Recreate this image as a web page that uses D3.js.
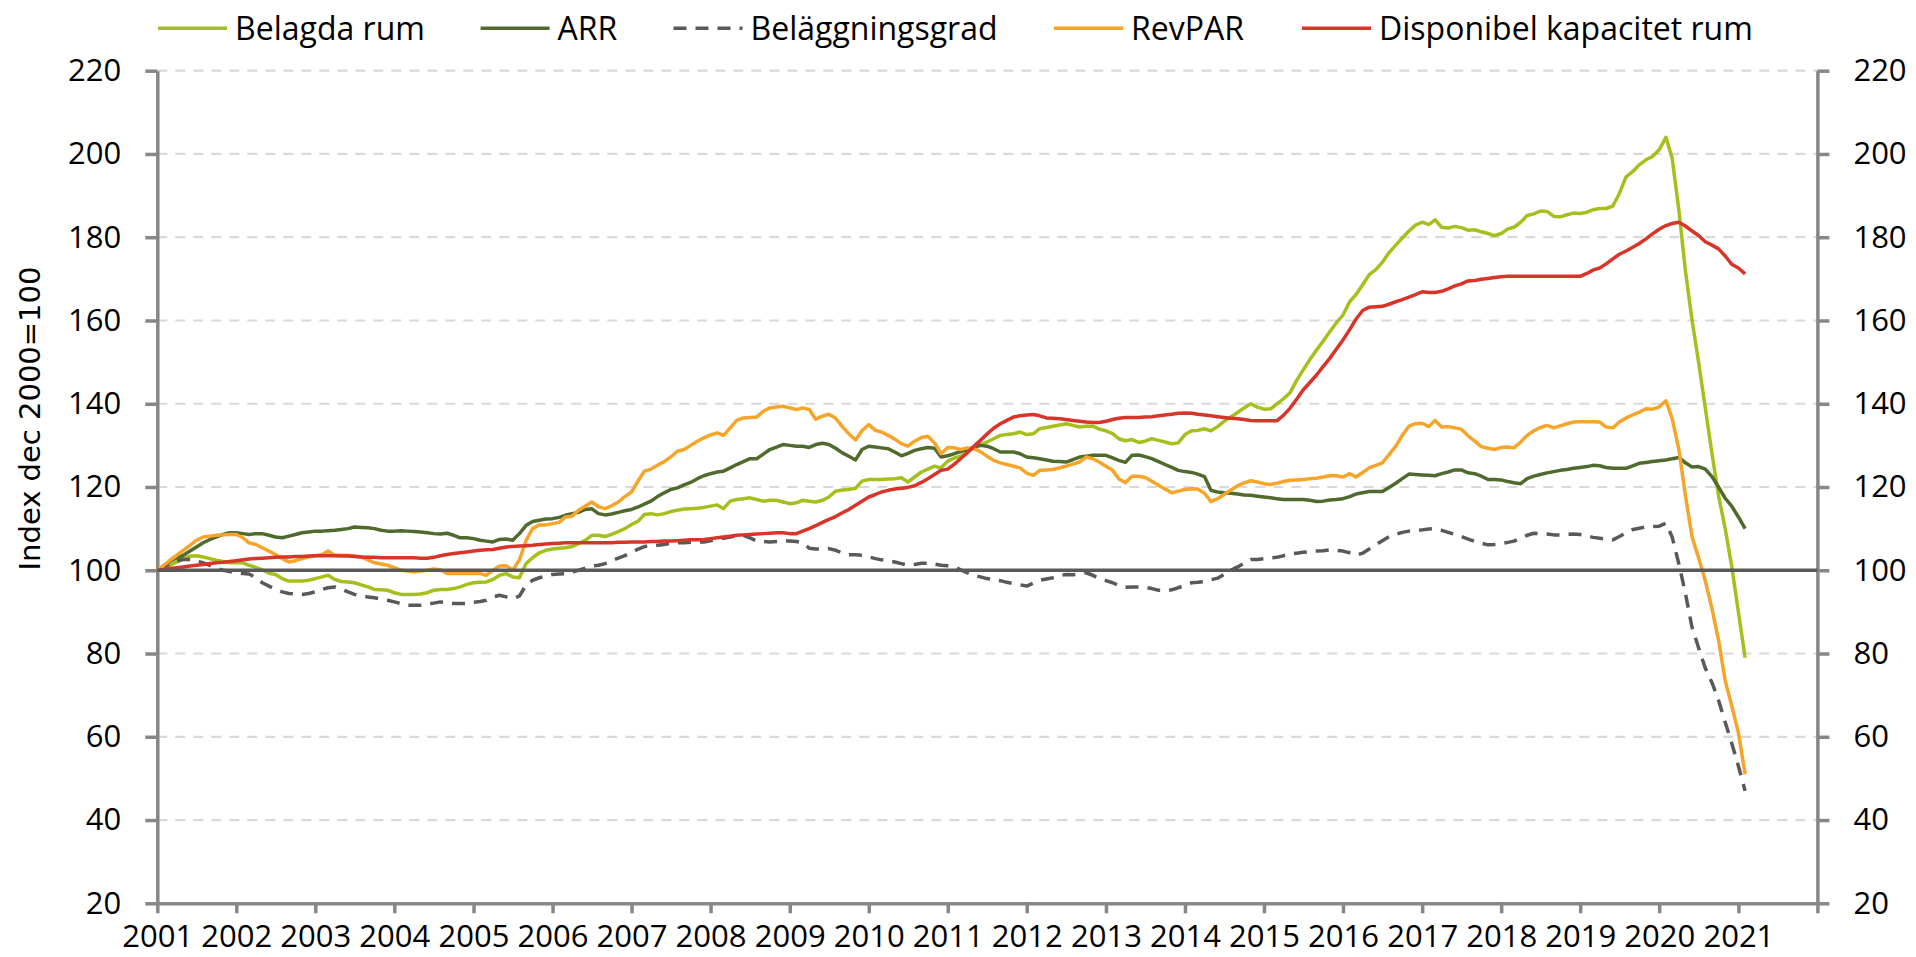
<!DOCTYPE html>
<html>
<head>
<meta charset="utf-8">
<script src="https://cdn.jsdelivr.net/npm/d3@7"></script>
<style>
  body { margin: 0; background: #fff; }
  svg text { font-family: "Open Sans", sans-serif; fill: #000; }
</style>
</head>
<body>
<script>
// monthly values, Jan 2001 .. Feb 2021 (one row per year)
const belagdaRum = [
  100, 100.6, 101.2, 102, 102.8, 103.4, 103.5, 103.2, 102.8, 102.4, 102.1, 101.8,
  101.8, 101.8, 101.2, 100.7, 100.1, 99.3, 99, 98, 97.4, 97.4, 97.4, 97.6,
  98, 98.4, 98.8, 97.8, 97.3, 97.2, 97, 96.5, 96, 95.4, 95.3, 95.2,
  94.6, 94.2, 94.2, 94.2, 94.3, 94.6, 95.2, 95.4, 95.4, 95.6, 96, 96.6,
  97, 97.1, 97.2, 97.8, 98.8, 99.2, 98.4, 98.2, 101.6, 103, 104.2, 104.8,
  105.1, 105.3, 105.4, 105.7, 106.4, 107.2, 108.4, 108.4, 108.1, 108.6, 109.3, 110,
  111, 111.8, 113.4, 113.6, 113.3, 113.6, 114.1, 114.4, 114.7, 114.8, 114.9, 115.1,
  115.4, 115.7, 114.8, 116.6, 117, 117.2, 117.4, 117, 116.6, 116.8, 116.8, 116.4,
  116, 116.2, 116.8, 116.6, 116.4, 116.8, 117.6, 119, 119.3, 119.4, 119.7, 121.4,
  121.8, 121.8, 121.8, 121.9, 122, 122.2, 121.2, 122.4, 123.6, 124.3, 125, 124.6,
  126.2, 127, 127.4, 128.4, 129.3, 130.2, 130.8, 131.6, 132.4, 132.6, 132.8, 133.2,
  132.6, 132.8, 134, 134.3, 134.6, 134.9, 135.2, 134.8, 134.4, 134.6, 134.6, 133.9,
  133.5, 132.8, 131.6, 131.1, 131.4, 130.7, 131, 131.6, 131.2, 130.8, 130.4, 130.6,
  132.6, 133.5, 133.6, 134, 133.5, 134.5, 135.8, 136.8, 137.9, 139, 140, 139.2,
  138.7, 138.8, 139.9, 141.2, 142.6, 145.6, 148.1, 150.6, 152.9, 155, 157.3, 159.4,
  161.3, 164.5, 166.2, 168.6, 171, 172.2, 174, 176.3, 178.1, 179.8, 181.5, 182.9,
  183.6, 183, 184.2, 182.4, 182.2, 182.6, 182.3, 181.7, 181.8, 181.3, 180.9, 180.4,
  180.9, 182, 182.4, 183.6, 185.2, 185.6, 186.3, 186.2, 185, 184.9, 185.4, 185.8,
  185.7, 186, 186.6, 186.9, 186.9, 187.5, 190.5, 194.5, 195.8, 197.4, 198.6, 199.4,
  201, 204, 199, 186.5, 172, 160, 150, 139, 128, 118, 110, 101,
  90, 79
];
const arr = [
  100, 101, 102.2, 103, 103.6, 104.6, 105.6, 106.6, 107.4, 108, 108.6, 109,
  109, 108.8, 108.6, 108.8, 108.8, 108.4, 108, 107.8, 108.2, 108.6, 109, 109.2,
  109.4, 109.4, 109.5, 109.6, 109.8, 110, 110.4, 110.3, 110.2, 110, 109.6, 109.4,
  109.4, 109.5, 109.4, 109.3, 109.2, 109, 108.8, 108.7, 108.9, 108.4, 107.8, 107.8,
  107.6, 107.2, 107, 106.8, 107.4, 107.5, 107.2, 108.8, 110.8, 111.7, 112, 112.3,
  112.4, 112.7, 113.2, 113.6, 113.9, 114.6, 114.8, 113.6, 113.3, 113.5, 113.9, 114.3,
  114.6, 115.2, 115.9, 116.6, 117.7, 118.6, 119.4, 119.8, 120.5, 121.1, 122, 122.7,
  123.2, 123.6, 123.8, 124.6, 125.4, 126.1, 126.8, 126.8, 127.9, 129, 129.6, 130.2,
  130, 129.8, 129.8, 129.5, 130.2, 130.5, 130.2, 129.3, 128.2, 127.4, 126.5, 129,
  129.8, 129.6, 129.4, 129.2, 128.4, 127.5, 128.1, 128.8, 129.2, 129.5, 129.3, 127.2,
  127.5, 128, 128.5, 129, 129.5, 130, 129.8, 129.2, 128.4, 128.4, 128.4, 128,
  127.2, 127, 126.8, 126.5, 126.2, 126.1, 126, 126.6, 127.2, 127.4, 127.6, 127.6,
  127.6, 127, 126.4, 125.9, 127.6, 127.7, 127.3, 126.8, 126.1, 125.4, 124.7, 124,
  123.7, 123.5, 123.1, 122.5, 119.2, 118.8, 118.6, 118.5, 118.3, 118.1, 118, 117.8,
  117.6, 117.4, 117.2, 117, 117, 117, 117, 116.8, 116.5, 116.6, 116.9, 117,
  117.2, 117.7, 118.3, 118.6, 118.9, 118.9, 118.9, 119.9, 120.9, 122, 123.1, 123,
  122.9, 122.8, 122.7, 123.2, 123.6, 124.1, 124.1, 123.4, 123.2, 122.6, 121.8, 121.8,
  121.7, 121.3, 121, 120.8, 122, 122.6, 123, 123.4, 123.7, 124, 124.2, 124.5,
  124.7, 124.9, 125.2, 125.1, 124.7, 124.5, 124.5, 124.5, 125.1, 125.7, 125.9, 126.1,
  126.3, 126.5, 126.8, 127.1, 125.8, 124.8, 124.9, 124.3, 122.5, 120, 117.3, 115.4,
  112.8, 110
];
const belaggningsgrad = [
  100, 100.8, 101.6, 102.2, 102.6, 102.6, 102.2, 101.8, 101.2, 100.4, 100, 99.7,
  99.4, 99.2, 99.1, 98.2, 97, 96.2, 95.4, 94.8, 94.4, 94.3, 94.2, 94.4,
  94.8, 95.4, 95.8, 96, 95.5, 94.8, 94.2, 93.8, 93.6, 93.4, 93.1, 92.8,
  92.4, 92, 91.6, 91.6, 91.6, 91.8, 92.1, 92.4, 92.2, 92, 92, 92,
  92.3, 92.5, 92.8, 93.6, 94, 93.6, 93.2, 93.8, 96.5, 97.6, 98.2, 98.6,
  99, 99.1, 99.2, 99.6, 100, 100.5, 101, 101.2, 101.6, 102.3, 102.9, 103.5,
  104.3, 105.1, 105.7, 105.8, 106, 106.2, 106.5, 106.6, 106.6, 106.7, 106.8, 106.8,
  107.1, 107.4, 107.7, 108, 108.3, 108.4, 107.8, 107, 106.9, 106.8, 106.9, 107,
  107, 106.9, 106.6, 105.3, 105.1, 105.1, 105.2, 104.8, 104.2, 103.7, 103.7, 103.6,
  103.2, 102.8, 102.5, 102.3, 102, 101.6, 101.2, 101.4, 101.7, 101.7, 101.5, 101.2,
  101.1, 100.9, 100.1, 99.4, 98.8, 98.4, 98, 97.8, 97.5, 97.1, 96.8, 96.5,
  96.2, 96.9, 97.6, 97.9, 98.2, 98.7, 99, 98.9, 99.1, 99.4, 98.8, 98,
  97.5, 97, 96.4, 95.9, 96, 96, 95.9, 95.6, 95.2, 95.1, 95.3, 95.8,
  96.4, 97, 97.1, 97.3, 97.7, 98.1, 99, 100, 100.8, 101.7, 102.6, 102.6,
  102.8, 103, 103.1, 103.5, 103.9, 104.1, 104.3, 104.5, 104.6, 104.7, 104.9, 104.8,
  104.6, 104.2, 103.6, 104.1, 105.1, 106.1, 107.1, 108.1, 108.6, 109.1, 109.4, 109.5,
  109.7, 109.9, 110, 109.6, 109.1, 108.6, 108.1, 107.5, 106.9, 106.5, 106.1, 106.2,
  106.4, 106.7, 107, 107.7, 108.4, 108.9, 108.8, 108.7, 108.5, 108.5, 108.6, 108.7,
  108.6, 108.3, 107.9, 107.7, 107.5, 107.3, 108.1, 109, 109.8, 110.1, 110.4, 110.5,
  110.6, 111.3, 108, 101.5, 94.5, 86.2, 81.4, 76.5, 73, 68.8, 63.5, 58.5,
  53, 47
];
const revpar = [
  100, 101.2, 102.4, 103.6, 104.8, 106, 107.2, 108, 108.2, 108.4, 108.5, 108.6,
  108.6, 107.8, 106.6, 106.2, 105.4, 104.6, 103.8, 102.8, 102, 102.3, 102.8, 103.2,
  103.5, 103.8, 104.6, 103.6, 103.6, 103.6, 103.4, 103.2, 102.5, 101.8, 101.5, 101.2,
  100.6, 100, 99.8, 99.6, 99.8, 100, 100.3, 100.1, 99.2, 99.2, 99.2, 99.2,
  99.2, 99.2, 98.8, 100, 101, 101.1, 100, 102.5, 107.2, 110, 110.9, 110.9,
  111.2, 111.5, 112.8, 113, 114.4, 115.4, 116.4, 115.3, 114.8, 115.5, 116.4, 117.7,
  118.8, 121.5, 123.8, 124.3, 125.2, 126.1, 127.2, 128.6, 129, 130, 131, 131.8,
  132.5, 133, 132.4, 134.2, 136, 136.6, 136.7, 136.8, 138.2, 139, 139.2, 139.4,
  139, 138.6, 139, 138.6, 136.3, 137, 137.5, 136.5, 134.5, 132.8, 131.3, 133.5,
  135, 133.6, 133.2, 132.4, 131.5, 130.4, 129.8, 131, 131.9, 132.2, 130.6, 128,
  129.5, 129.4, 129, 129.4, 129.2, 128.5, 127.4, 126.4, 125.8, 125.4, 125, 124.6,
  123.3, 122.8, 124, 124.1, 124.2, 124.6, 125, 125.5, 126, 127.2, 126.8, 126,
  125, 124, 122, 121, 122.6, 122.6, 122.3, 121.4, 120.4, 119.5, 118.6, 119,
  119.4, 119.6, 119.5, 118.5, 116.5, 117.2, 118.2, 119.3, 120.3, 121, 121.5, 121.2,
  120.8, 120.6, 120.9, 121.3, 121.6, 121.7, 121.8, 122, 122.1, 122.4, 122.7, 122.7,
  122.4, 123.2, 122.4, 123.5, 124.6, 125.2, 125.8, 127.8, 129.8, 132.4, 134.6, 135.2,
  135.3, 134.5, 136, 134.4, 134.5, 134.2, 133.9, 132.3, 131, 129.7, 129.3, 129,
  129.5, 129.6, 129.4, 130.8, 132.4, 133.5, 134.3, 134.8, 134.2, 134.7, 135.2, 135.6,
  135.7, 135.7, 135.7, 135.6, 134.4, 134.2, 135.6, 136.6, 137.3, 138, 138.8, 138.7,
  139.2, 140.7, 136.5, 129, 118, 108, 103, 97.5, 90.7, 83.3, 73.5, 67.5,
  61, 51
];
const disponibelKapacitet = [
  100, 100.2, 100.4, 100.6, 100.8, 101, 101.2, 101.4, 101.6, 101.8, 101.9, 102.1,
  102.3, 102.5, 102.7, 102.8, 102.9, 103, 103.1, 103.2, 103.2, 103.3, 103.3, 103.4,
  103.5, 103.5, 103.5, 103.5, 103.4, 103.4, 103.3, 103.2, 103.1, 103.1, 103, 103,
  103, 103, 103, 103, 102.9, 102.9, 103.1, 103.5, 103.8, 104, 104.2, 104.4,
  104.6, 104.8, 104.9, 105, 105.3, 105.6, 105.7, 105.8, 105.9, 106, 106.2, 106.3,
  106.4, 106.5, 106.6, 106.6, 106.6, 106.6, 106.6, 106.6, 106.6, 106.6, 106.7, 106.7,
  106.8, 106.8, 106.8, 106.9, 106.9, 107, 107, 107.1, 107.2, 107.3, 107.3, 107.4,
  107.6, 107.8, 108, 108.2, 108.4, 108.5, 108.6, 108.7, 108.8, 108.9, 109, 109,
  108.8, 108.8, 109.4, 110, 110.7, 111.5, 112.2, 112.9, 113.8, 114.6, 115.6, 116.6,
  117.6, 118.2, 118.8, 119.2, 119.5, 119.7, 119.9, 120.3, 121.1, 122, 123, 124,
  124.3, 125.5, 126.8, 128.2, 129.7, 131.2, 132.7, 134.1, 135.2, 136, 136.8, 137.1,
  137.3, 137.4, 137.1, 136.6, 136.5, 136.4, 136.2, 136, 135.8, 135.6, 135.5, 135.5,
  135.8, 136.2, 136.5, 136.7, 136.7, 136.7, 136.8, 136.9, 137.1, 137.3, 137.5, 137.7,
  137.8, 137.7, 137.5, 137.3, 137.1, 136.9, 136.7, 136.5, 136.4, 136.2, 136, 135.9,
  135.9, 135.9, 135.9, 137.2, 138.9, 141.1, 143.3, 145.1, 146.9, 148.9, 150.9, 153.1,
  155.3, 157.8, 160.3, 162.4, 163.2, 163.3, 163.4, 163.9, 164.5, 165, 165.6, 166.2,
  166.9, 166.7, 166.7, 167, 167.6, 168.3, 168.8, 169.5, 169.6, 169.9, 170.1, 170.3,
  170.5, 170.6, 170.6, 170.6, 170.6, 170.6, 170.6, 170.6, 170.6, 170.6, 170.6, 170.6,
  170.6, 171.3, 172.1, 172.6, 173.6, 174.8, 175.9, 176.7, 177.6, 178.5, 179.6, 180.8,
  181.9, 182.8, 183.3, 183.6, 182.7, 181.5, 180.4, 178.9, 178.1, 177.2, 175.5, 173.5,
  172.6, 171.2
];

const SERIES_NAMES = ["Belagda rum", "ARR", "Beläggningsgrad", "RevPAR", "Disponibel kapacitet rum"];
const Y_TICKS = [20, 40, 60, 80, 100, 120, 140, 160, 180, 200, 220];
const YEAR_TICKS = [2001, 2002, 2003, 2004, 2005, 2006, 2007, 2008, 2009, 2010, 2011,
  2012, 2013, 2014, 2015, 2016, 2017, 2018, 2019, 2020, 2021, 2022];
const Y_TITLE = "Index dec 2000=100";

// layout
const WIDTH = 1916;
const HEIGHT = 957;
const PLOT_LEFT = 157.3;
const PLOT_RIGHT = 1817.4;
const PLOT_TOP = 70.7;
const PLOT_BOTTOM = 903.3;
const FONT_SIZE = 31;
const LEGEND_FONT_SIZE = 32;
const LEGEND_X = [158, 480.6, 673.5, 1054, 1302];
const LEGEND_LINE_Y = 28.3;
const LEGEND_TEXT_Y = 40;
const LEGEND_LINE_LEN = 69;

const STYLES = [
  { color: "#a3c11d", dash: null },
  { color: "#4f6a2c", dash: null },
  { color: "#595959", dash: "13,9" },
  { color: "#f7a42a", dash: null },
  { color: "#d8342a", dash: null }
];
const SERIES_DATA = [belagdaRum, arr, belaggningsgrad, revpar, disponibelKapacitet];

const svg = d3.select("body").append("svg")
  .attr("width", WIDTH)
  .attr("height", HEIGHT);

svg.append("rect").attr("width", WIDTH).attr("height", HEIGHT).attr("fill", "#fff");

const x = d3.scaleTime()
  .domain([new Date(2001, 0, 1), new Date(2022, 0, 1)])
  .range([PLOT_LEFT, PLOT_RIGHT]);
const y = d3.scaleLinear()
  .domain([20, 220])
  .range([PLOT_BOTTOM, PLOT_TOP]);

// dashed gridlines
svg.append("g")
  .selectAll("line")
  .data(Y_TICKS.filter(v => v !== 20 && v !== 100))
  .enter().append("line")
  .attr("x1", PLOT_LEFT)
  .attr("x2", PLOT_RIGHT)
  .attr("y1", d => y(d))
  .attr("y2", d => y(d))
  .attr("stroke", "#d9d9d9")
  .attr("stroke-width", 2.2)
  .attr("stroke-dasharray", "10,8");

function styleAxis(g) {
  g.selectAll(".domain").attr("stroke", "#878787").attr("stroke-width", 3.5);
  g.selectAll(".tick line").attr("stroke", "#878787").attr("stroke-width", 3.5);
  g.selectAll(".tick text").attr("font-size", FONT_SIZE).attr("fill", "#000");
  g.attr("font-family", null);
}

svg.append("g")
  .attr("transform", `translate(${PLOT_LEFT},0)`)
  .call(d3.axisLeft(y).tickValues(Y_TICKS).tickSize(12).tickSizeOuter(0).tickPadding(24))
  .call(styleAxis);

svg.append("g")
  .attr("transform", `translate(${PLOT_RIGHT},0)`)
  .call(d3.axisRight(y).tickValues(Y_TICKS).tickSize(12).tickSizeOuter(0).tickPadding(24))
  .call(styleAxis);

svg.append("g")
  .attr("transform", `translate(0,${PLOT_BOTTOM})`)
  .call(d3.axisBottom(x)
    .tickValues(YEAR_TICKS.map(yr => new Date(yr, 0, 1)))
    .tickFormat(d => d.getFullYear() < 2022 ? d.getFullYear() : "")
    .tickSize(10).tickSizeOuter(0).tickPadding(12))
  .call(styleAxis);

// series
const line = d3.line()
  .x((_, i) => x(new Date(2001, i, 1)))
  .y(d => y(d));

svg.append("g")
  .selectAll("path")
  .data(SERIES_DATA)
  .enter().append("path")
  .attr("d", d => line(d))
  .attr("fill", "none")
  .attr("stroke", (_, i) => STYLES[i].color)
  .attr("stroke-width", 3.5)
  .attr("stroke-linejoin", "round")
  .attr("stroke-dasharray", (_, i) => STYLES[i].dash);

// index = 100 line
svg.append("line")
  .attr("x1", PLOT_LEFT)
  .attr("x2", PLOT_RIGHT)
  .attr("y1", y(100))
  .attr("y2", y(100))
  .attr("stroke", "#595959")
  .attr("stroke-width", 3.5);

// y title
svg.append("text")
  .attr("transform", `translate(40,${418.5}) rotate(-90)`)
  .attr("text-anchor", "middle")
  .style("font-family", "'DejaVu Sans', sans-serif")
  .attr("font-size", 29)
  .text(Y_TITLE);

// legend
const legend = svg.append("g")
  .selectAll("g")
  .data(SERIES_NAMES)
  .enter().append("g")
  .attr("transform", (_, i) => `translate(${LEGEND_X[i]},0)`);
legend.append("line")
  .attr("x1", 0)
  .attr("x2", LEGEND_LINE_LEN)
  .attr("y1", LEGEND_LINE_Y)
  .attr("y2", LEGEND_LINE_Y)
  .attr("stroke", (_, i) => STYLES[i].color)
  .attr("stroke-width", 3.5)
  .attr("stroke-dasharray", (_, i) => STYLES[i].dash);
legend.append("text")
  .attr("x", LEGEND_LINE_LEN + 8)
  .attr("y", LEGEND_TEXT_Y)
  .attr("font-size", LEGEND_FONT_SIZE)
  .text(d => d);
</script>
</body>
</html>
